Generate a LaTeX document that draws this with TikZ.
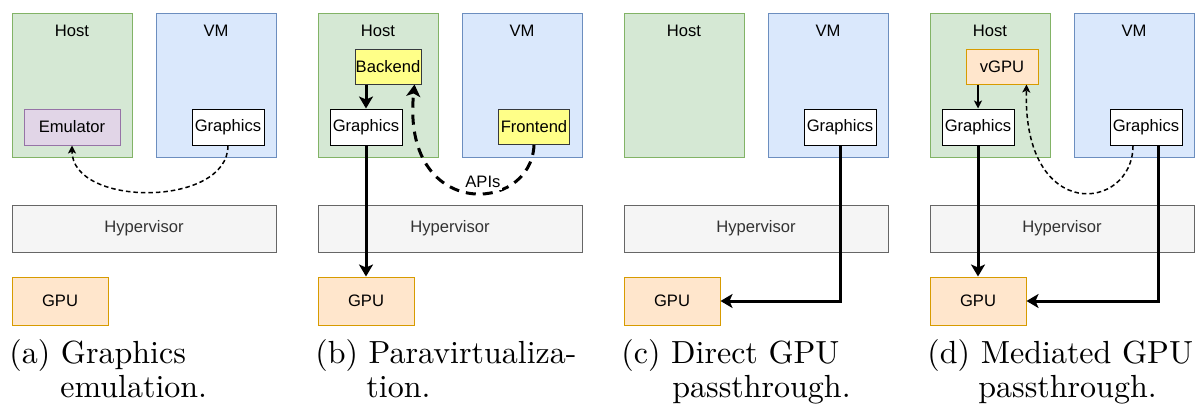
\documentclass[tikz,border=0pt]{standalone}
\usepackage{fontspec}
\usepackage{graphicx}
\newfontfamily\drawiofont{Liberation Sans}
\usetikzlibrary{arrows.meta,positioning}
\definecolor{hostfill}{HTML}{D5E8D4}
\definecolor{hostline}{HTML}{82B366}
\definecolor{vmfill}{HTML}{DAE8FC}
\definecolor{vmline}{HTML}{6C8EBF}
\definecolor{emufill}{HTML}{E1D5E7}
\definecolor{emuline}{HTML}{9673A6}
\definecolor{hypfill}{HTML}{F5F5F5}
\definecolor{hypline}{HTML}{666666}
\definecolor{hyptext}{HTML}{333333}
\definecolor{gpufill}{HTML}{FFE6CC}
\definecolor{gpuline}{HTML}{D79B00}
\definecolor{apifill}{HTML}{FFFF88}
\definecolor{apiline}{HTML}{36393D}
\newcommand{\captext}[1]{\scalebox{1.6}{\fontsize{10}{12}\selectfont #1}}
\tikzset{%
	box/.style = {draw,inner sep=0,line width=0.5pt,font=\drawiofont\fontsize{8.3}{10}\selectfont},
	host/.style = {box,fill=hostfill,draw=hostline,minimum width=60pt,minimum height=72pt},
	vm/.style = {box,fill=vmfill,draw=vmline,minimum width=60pt,minimum height=72pt},
	hyper/.style = {box,fill=hypfill,draw=hypline,text=hyptext,minimum width=132pt,minimum height=23.5pt},
	gpu/.style = {box,fill=gpufill,draw=gpuline,minimum width=48pt,minimum height=24pt},
	vgpu/.style = {box,fill=gpufill,draw=gpuline,minimum width=36pt,minimum height=17.5pt},
	gfx/.style = {box,fill=white,draw=black,minimum width=36pt,minimum height=18pt},
	emu/.style = {box,fill=emufill,draw=emuline,minimum width=48pt,minimum height=18pt},
	api/.style = {box,fill=apifill,draw=apiline,minimum height=17.5pt},
	lbl/.style = {inner sep=0,font=\drawiofont\fontsize{8.3}{10}\selectfont},
	subcap/.style = {inner sep=0,anchor=base west},
	heavyarrow/.style = {line width=1.5pt,-{Stealth[length=6pt,width=7pt,inset=1.5pt]}},
	lightarrow/.style = {line width=0.75pt,-{Stealth[length=4pt,width=4pt,inset=1pt]}},
	heavydash/.style = {heavyarrow,dash pattern=on 5pt off 3.5pt},
	lightdash/.style = {lightarrow,dash pattern=on 2.25pt off 1.5pt}%
}
\begin{document}
\begin{tikzpicture}[x=0.5pt,y=-0.5pt]
		\useasboundingbox(0,0)rectangle(1203,412);
		
		\node(hostA)[host]at(72,85){};
		\node(vmA)[vm]at(216,85){};
		\node(hostAt)[lbl]at(72,31){Host};
		\node(vmAt)[lbl]at(216,31){VM};
		\node(emuA)[emu]at(72,127){Emulator};
		\node(gfxA)[gfx]at(228,127){Graphics};
		\node(hypA)[hyper]at(144,228.5){Hypervisor};
		\node(gpuA)[gpu]at(60,301){GPU};
		\draw[lightdash](gfxA.south)..controls +(0,62) and +(0,62)..(emuA.south);
		
		\node(hostB)[host]at(378,85){};
		\node(vmB)[vm]at(522,85){};
		\node(hostBt)[lbl]at(378,31){Host};
		\node(vmBt)[lbl]at(522,31){VM};
		\node(backB)[api,minimum width=33pt]at(388,66.5){Backend};
		\node(gfxB)[gfx]at(366,127){Graphics};
		\node(frontB)[api,minimum width=35.5pt]at(534,127){Frontend};
		\node(hypB)[hyper]at(450,228.5){Hypervisor};
		\node(gpuB)[gpu]at(366,301){GPU};
		\draw[heavyarrow](backB.south -| gfxB.north)--(gfxB.north);
		\draw[heavyarrow](gfxB.south)--(gpuB.north);
		\draw[heavydash](frontB.south)..controls +(-3,70) and +(-14,136)..([xshift=-3.5pt]backB.south east)
			node[lbl,pos=0.42,yshift=5.5pt,fill=white,inner sep=1pt]{APIs};
		
		\node(hostC)[host]at(684,85){};
		\node(vmC)[vm]at(828,85){};
		\node(hostCt)[lbl]at(684,31){Host};
		\node(vmCt)[lbl]at(828,31){VM};
		\node(gfxC)[gfx]at(840,127){Graphics};
		\node(hypC)[hyper]at(756,228.5){Hypervisor};
		\node(gpuC)[gpu]at(672,301){GPU};
		\draw[heavyarrow](gfxC.south)|-(gpuC.east);
		
		\node(hostD)[host]at(990,85){};
		\node(vmD)[vm]at(1134,85){};
		\node(hostDt)[lbl]at(990,31){Host};
		\node(vmDt)[lbl]at(1134,31){VM};
		\node(vgpuD)[vgpu]at(1002,66.5){vGPU};
		\node(gfxD)[gfx]at(978,127){Graphics};
		\node(gfxDv)[gfx]at(1146,127){Graphics};
		\node(hypD)[hyper]at(1062,228.5){Hypervisor};
		\node(gpuD)[gpu]at(978,301){GPU};
		\draw[lightarrow](vgpuD.south -| gfxD.north)--(gfxD.north);
		\draw[heavyarrow](gfxD.south)--(gpuD.north);
		\draw[heavyarrow]([xshift=6pt]gfxDv.south)|-(gpuD.east);
		\draw[lightdash]([xshift=-6.5pt]gfxDv.south)..controls +(0,66) and +(-4,140)..([xshift=-6pt]vgpuD.south east);
		
		\node(capA)[subcap]at(9,363){\captext{(a) Graphics}};
		\node(capAb)[subcap]at(60,397){\captext{emulation.}};
		\node(capB)[subcap]at(315,363){\captext{(b) Paravirtualiza-}};
		\node(capBb)[subcap]at(366,397){\captext{tion.}};
		\node(capC)[subcap]at(621,363){\captext{(c) Direct GPU}};
		\node(capCb)[subcap]at(672,397){\captext{passthrough.}};
		\node(capD)[subcap]at(927,363){\captext{(d) Mediated GPU}};
		\node(capDb)[subcap]at(978,397){\captext{passthrough.}};
\end{tikzpicture}
\end{document}
